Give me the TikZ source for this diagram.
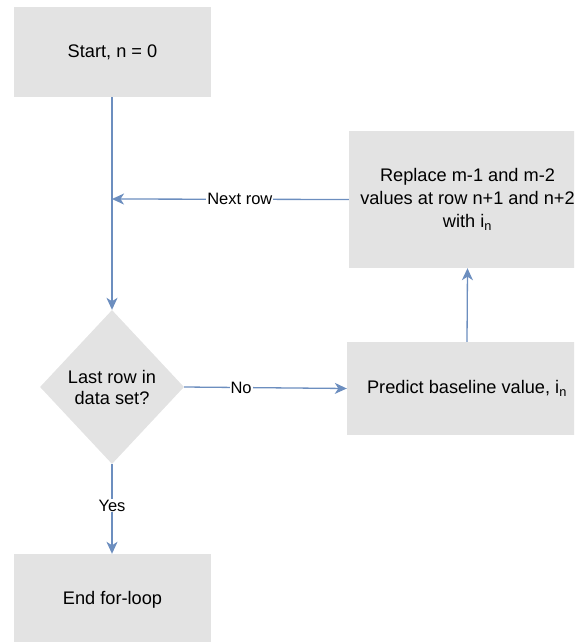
\documentclass[tikz,border=0pt]{standalone}
\usepackage{fontspec}
\setmainfont{Liberation Sans}
\usetikzlibrary{shapes.geometric,arrows.meta}
\definecolor{boxgray}{HTML}{E3E3E3}
\definecolor{linkblue}{HTML}{6C8EBF}
\begin{document}
\begin{tikzpicture}[x=1pt,y=-1pt,
  box/.style={rectangle,fill=boxgray,draw=none,align=center,inner sep=0pt,
    font=\fontsize{18.2}{23}\selectfont},
  decision/.style={diamond,fill=boxgray,draw=none,align=center,inner sep=0pt,
    minimum width=144pt,minimum height=154pt,font=\fontsize{18.2}{21}\selectfont},
  link/.style={draw=linkblue,line width=1.3pt,
    -{Stealth[length=12pt,width=11pt,inset=3.5pt]}},
  lbl/.style={fill=white,inner sep=1pt,text=black,font=\fontsize{16.5}{20}\selectfont}]
\useasboundingbox (0,0) rectangle (574,642);
\clip (0,0) rectangle (574,642);
\node[box,minimum width=197pt,minimum height=90pt] (start) at (112.5,52) {Start, n = 0};
\node[box,minimum width=237pt,minimum height=137pt] (rep) at (467.5,199.5)
  {Replace m-1 and m-2\\values at row n+1 and n+2\\with i\textsubscript{n}};
\node[decision] (dia) at (112,387) {Last row in\\data set?};
\node[box,minimum width=240pt,minimum height=93pt] (pred) at (467,388.5)
  {Predict baseline value, i\textsubscript{n}};
\node[box,minimum width=197pt,minimum height=92pt] (end) at (112.5,600) {End for-loop};
\coordinate (join) at (112,199);
\draw[link] (start.south -| dia.north) -- (dia.north);
\draw[link] (rep.west) -- node[lbl,pos=0.46] {Next row} (join);
\draw[link] (dia.east) -- node[lbl,pos=0.35] {No} (pred.west);
\draw[link] (pred.north) -- (rep.south);
\draw[link] (dia.south) -- node[lbl,pos=0.46] {Yes} (end.north -| dia.south);
\end{tikzpicture}
\end{document}
